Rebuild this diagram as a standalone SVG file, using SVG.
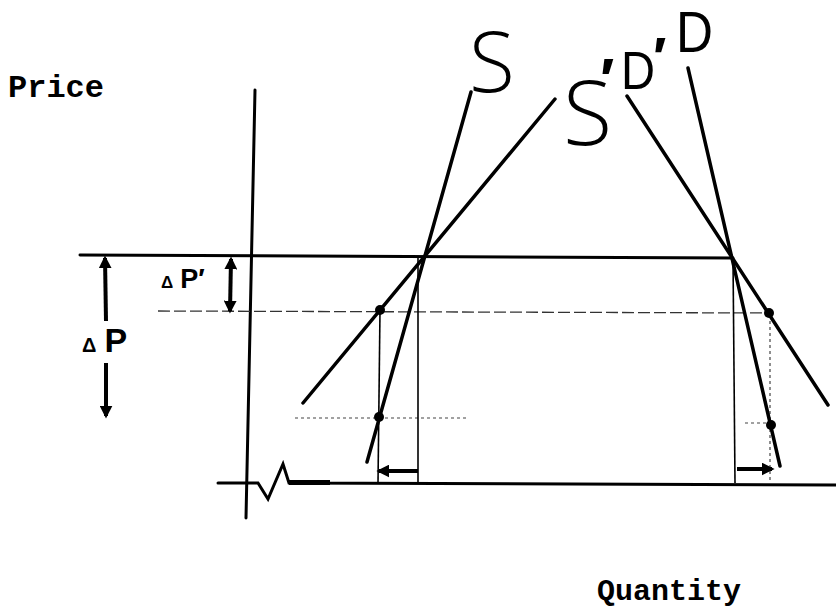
<svg xmlns="http://www.w3.org/2000/svg" width="836" height="610" viewBox="0 0 836 610">
  <style>
    .ax { stroke:#000; stroke-width:3; fill:none; stroke-linecap:round; }
    .cv { stroke:#000; stroke-width:3.5; fill:none; stroke-linecap:round; }
    .thin { stroke:#000; stroke-width:1.6; fill:none; }
    .dash { stroke:#333; stroke-width:1.3; fill:none; stroke-dasharray:12 4; }
    .dot { stroke:#444; stroke-width:1.2; fill:none; stroke-dasharray:3 3; }
    .arr { stroke:#000; stroke-width:4; fill:none; }
    .mono { font-family:"Liberation Mono","Courier New",monospace; font-weight:bold; fill:#000; }
    .hand { font-family:"Open Sans","Liberation Sans",sans-serif; font-weight:300; fill:#000; }
    .hd { font-family:"Liberation Sans",Arial,sans-serif; font-weight:normal; fill:#000; }
    .hb { font-family:"Liberation Sans",Arial,sans-serif; font-weight:bold; fill:#000; }
  </style>
  <defs>
    <marker id="ah" viewBox="0 0 10 10" refX="8" refY="5" markerUnits="userSpaceOnUse" markerWidth="13" markerHeight="13" orient="auto-start-reverse">
      <path d="M0,0 L10,5 L0,10 z" fill="#000"/>
    </marker>
  </defs>
  <rect width="836" height="610" fill="#fff"/>

  <g id="axes">
    <line class="ax" x1="255" y1="90" x2="246" y2="518"/>
    <polyline class="ax" points="218,483 258,483 268,499 283,464 289,483 836,485"/>
    <line x1="289" y1="482.5" x2="330" y2="482.5" stroke="#000" stroke-width="5"/>
  </g>

  <g id="guides">
    <line class="ax" x1="80" y1="255" x2="733" y2="258"/>
    <line class="dash" x1="158" y1="311" x2="770" y2="313"/>
    <line class="dot" x1="295" y1="418" x2="468" y2="418"/>
    <line class="dot" x1="745" y1="423" x2="768" y2="423"/>
    <line class="thin" x1="380" y1="310" x2="378" y2="483"/>
    <line class="thin" x1="418" y1="256" x2="418" y2="483"/>
    <line class="thin" x1="733" y1="258" x2="735" y2="483" stroke-width="2"/>
    <line class="dot" x1="770" y1="315" x2="770" y2="483"/>
  </g>

  <g id="curves">
    <line id="S" class="cv" x1="471" y1="92" x2="367" y2="462"/>
    <line id="S-prime" class="cv" x1="555" y1="99" x2="303" y2="403"/>
    <line id="D-prime" class="cv" x1="627" y1="96" x2="828" y2="405"/>
    <line id="D" class="cv" x1="688" y1="68" x2="780" y2="466"/>
  </g>

  <g id="points" fill="#000">
    <circle cx="380" cy="310" r="5"/>
    <circle cx="379" cy="417" r="5"/>
    <circle cx="769" cy="313" r="5"/>
    <circle cx="771" cy="425" r="5"/>
  </g>

  <g id="connectors">
    <line class="arr" x1="106" y1="321" x2="105" y2="258" marker-end="url(#ah)"/>
    <line class="arr" x1="106" y1="363" x2="106" y2="416" marker-end="url(#ah)"/>
    <line class="arr" x1="231" y1="259" x2="230" y2="311" marker-start="url(#ah)" marker-end="url(#ah)"/>
    <line class="arr" x1="418" y1="471" x2="379" y2="471" marker-end="url(#ah)"/>
    <line class="arr" x1="737" y1="469" x2="772" y2="469" marker-end="url(#ah)"/>
  </g>

  <g id="labels">
    <text class="mono" x="8" y="97" font-size="32">Price</text>
    <text class="mono" x="597" y="600" font-size="30">Quantity</text>
    <text class="hb" x="82" y="352" font-size="34"><tspan font-size="20">Δ</tspan><tspan dx="8">P</tspan></text>
    <text class="hb" x="161" y="288" font-size="27"><tspan font-size="17">Δ</tspan><tspan dx="7">P′</tspan></text>
    <text class="hand" x="469" y="92" font-size="84">S</text>
    <text class="hand" x="563" y="145" font-size="90">S<tspan class="hb" x="600" y="100" font-size="60">′</tspan></text>
    <text class="hd" x="621" y="89" font-size="54"><tspan textLength="34" lengthAdjust="spacingAndGlyphs">D</tspan><tspan class="hb" x="653" y="76" font-size="56">′</tspan></text>
    <text class="hd" x="676" y="52" font-size="58" textLength="37" lengthAdjust="spacingAndGlyphs">D</text>
  </g>
</svg>
